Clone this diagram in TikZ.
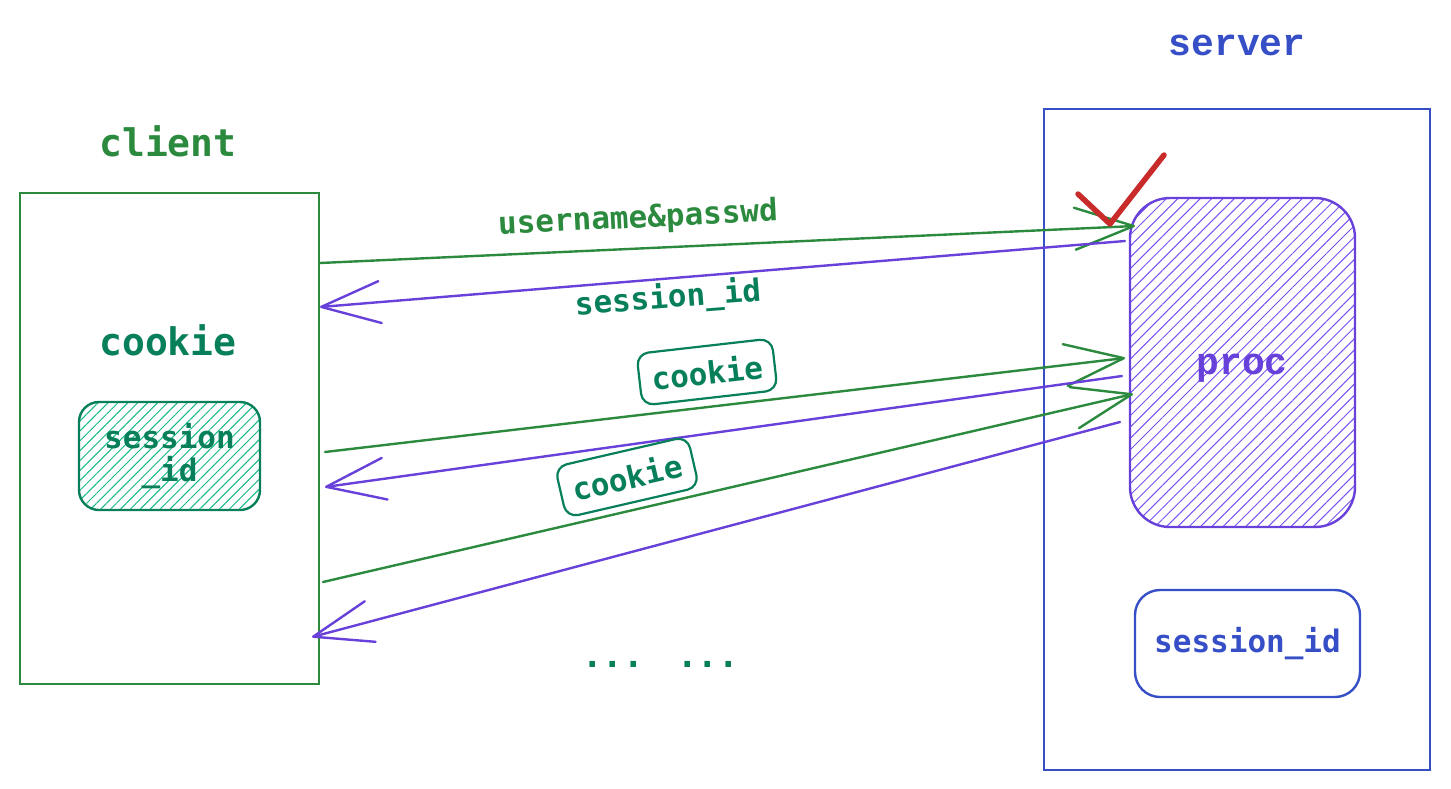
\documentclass[tikz,border=0pt]{standalone}
\usepackage{fontspec}
\newfontfamily\smono{DejaVu Sans Mono}
\newfontfamily\lmono{Liberation Mono}
\usetikzlibrary{arrows.meta,patterns.meta}
\definecolor{cgreen}{HTML}{2B8A3E}
\definecolor{teal}{HTML}{087F5B}
\definecolor{hteal}{HTML}{12B886}
\definecolor{cpurple}{HTML}{6741D9}
\definecolor{hpurple}{HTML}{7950F2}
\definecolor{cblue}{HTML}{364FC7}
\definecolor{cred}{HTML}{C92A2A}
\tikzset{
  big/.style={font=\smono\bfseries\fontsize{38}{40}\selectfont},
  bigser/.style={font=\lmono\bfseries\fontsize{38}{40}\selectfont},
  small/.style={font=\smono\bfseries\fontsize{31}{35}\selectfont},
  frame/.style={draw, line width=2.4pt, inner sep=0pt},
  arr/.style={line width=2.4pt, line cap=round,
    -{Straight Barb[length=59pt,width=42pt,round]}},
  tag/.style={small, draw=teal, text=teal, line width=2.2pt, rounded corners=12pt,
    minimum width=136pt, minimum height=52pt, inner sep=0pt},
}
\begin{document}
\begin{tikzpicture}[x=1pt,y=-1pt]
\useasboundingbox (0,0) rectangle (1451,788);

% client side
\node[big, text=cgreen] (clientlbl) at (168,141) {client};
\node[frame, draw=cgreen, minimum width=299pt, minimum height=491pt] (client) at (169.5,438.5) {};
\node[big, text=teal] (cookielbl) at (168,340) {cookie};
\node[small, frame, draw=teal, text=teal, rounded corners=20pt, align=center,
      minimum width=181pt, minimum height=108pt,
      pattern={Lines[angle=45,distance=7pt,line width=1pt]}, pattern color=hteal]
      (csid) at (169.5,456) {session\\[-2pt]\_id};

% server side
\node[bigser, text=cblue] (serverlbl) at (1237,45) {server};
\node[frame, draw=cblue, minimum width=386pt, minimum height=661pt] (server) at (1237,439.5) {};
\node[frame, draw=cpurple, rounded corners=40pt,
      minimum width=225pt, minimum height=329pt,
      pattern={Lines[angle=45,distance=8pt,line width=1pt]}, pattern color=hpurple]
      (proc) at (1242.5,362.5) {};
\node[bigser, text=cpurple] (proclbl) at (1242,368) {proc};
\node[small, frame, draw=cblue, text=cblue, rounded corners=25pt,
      minimum width=225pt, minimum height=107pt] (ssid) at (1247.5,643.5) {session\_id};

% connector end points
\coordinate (a1s) at (320,263);  \coordinate (a1e) at (1135,226);
\coordinate (a2s) at (1125,241); \coordinate (a2e) at (320,307);
\coordinate (a3s) at (325,452);  \coordinate (a3e) at (1125,358);
\coordinate (a4s) at (1122,376); \coordinate (a4e) at (325,487);
\coordinate (a5s) at (323,582);  \coordinate (a5e) at (1133,394);
\coordinate (a6s) at (1120,422); \coordinate (a6e) at (312,637);

\draw[arr, cgreen]  (a1s) -- (a1e);
\draw[arr, cpurple] (a2s) -- (a2e);
\draw[arr, cgreen]  (a3s) -- (a3e);
\draw[arr, cpurple] (a4s) -- (a4e);
\draw[arr, cgreen]  (a5s) -- (a5e);
\draw[arr, cpurple] (a6s) -- (a6e);

% labels
\node[small, text=cgreen, rotate=3] (l1) at (638,219) {username\&passwd};
\node[small, text=teal, rotate=4.5] (l2) at (668,299) {session\_id};
\node[tag, fill=white, rotate=6.5] (ck1) at (707,372) {cookie};
\node[tag, fill=white, rotate=13] (ck2) at (627,477) {cookie};

% check mark
\coordinate (ch1) at (1078,194);
\coordinate (ch2) at (1110,224);
\coordinate (ch3) at (1164,155);
\draw[cred, line width=5.5pt, line cap=round, line join=round] (ch1) -- (ch2) -- (ch3);

% ellipsis
\node[small, text=teal, font=\smono\bfseries\fontsize{34}{36}\selectfont] (d1) at (613,664) {...};
\node[small, text=teal, font=\smono\bfseries\fontsize{34}{36}\selectfont] (d2) at (708,664) {...};
\end{tikzpicture}
\end{document}
